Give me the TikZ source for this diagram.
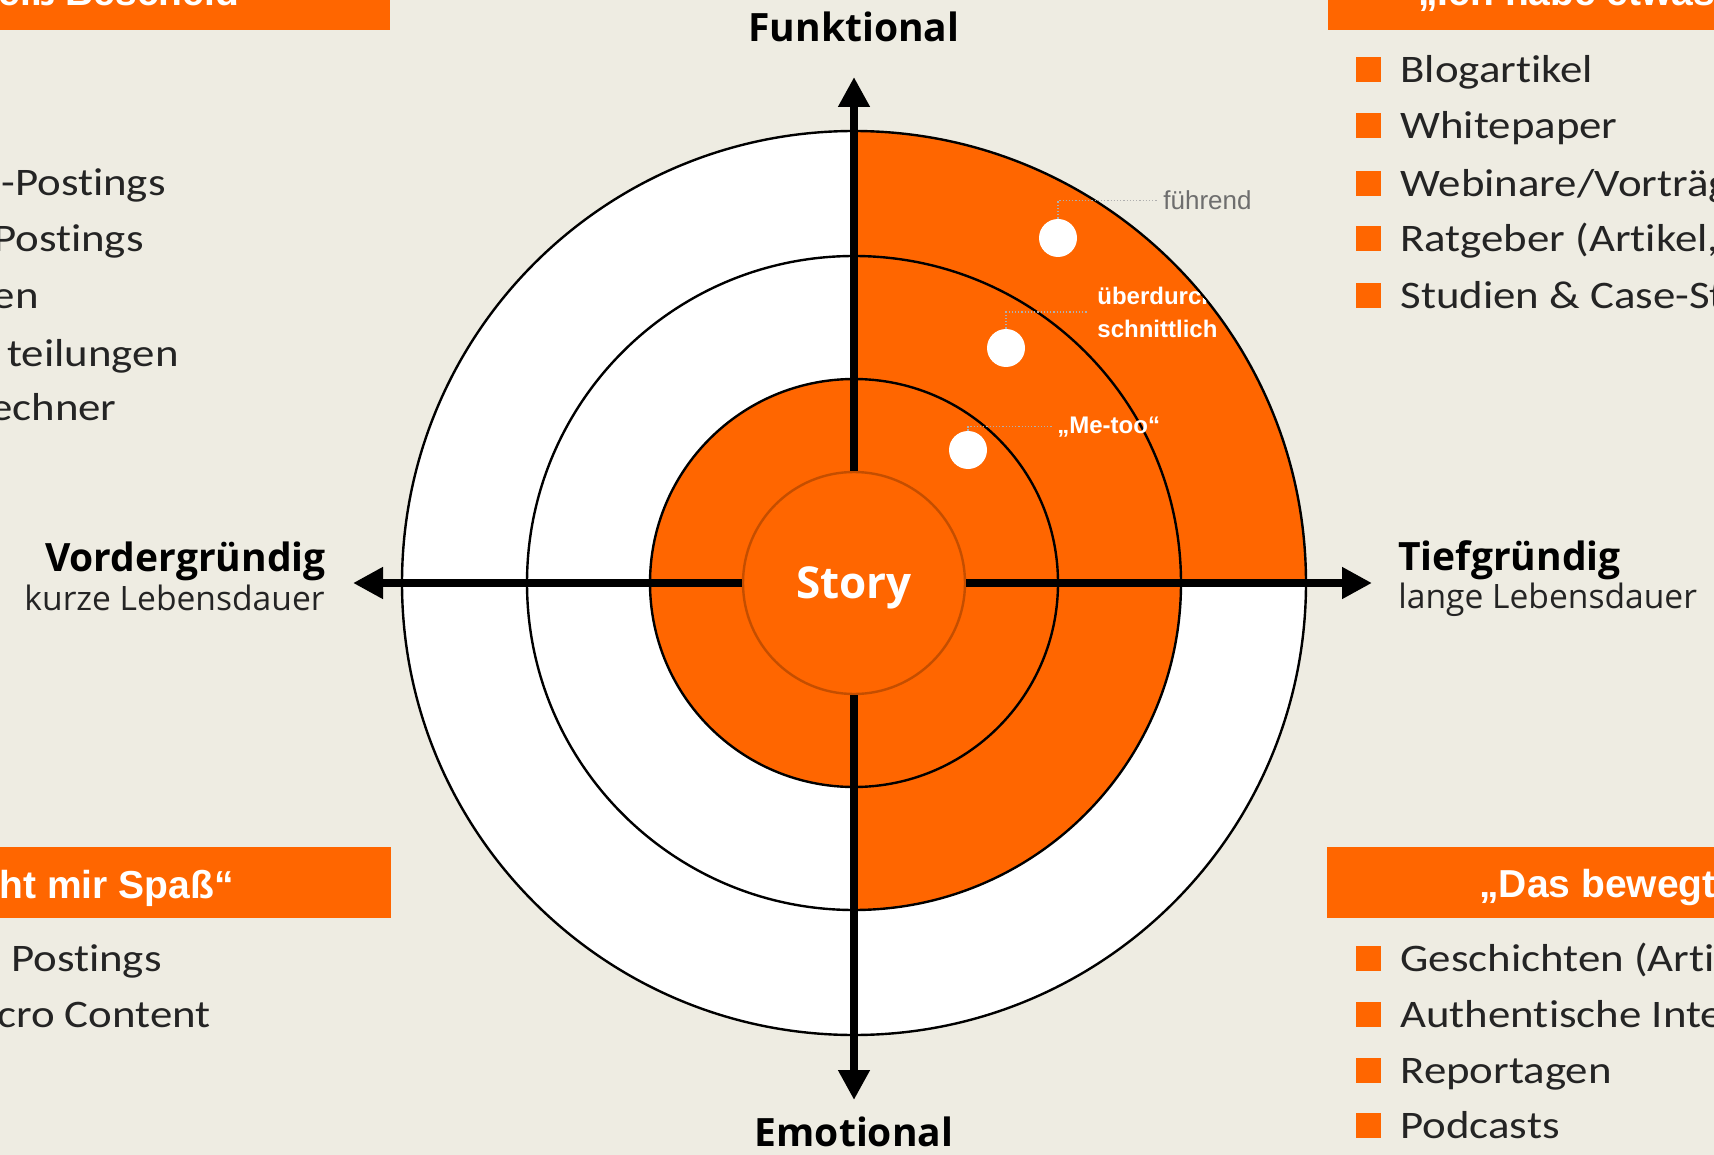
\documentclass[tikz,border=0pt]{standalone}
\usepackage{fontspec}
\usetikzlibrary{arrows.meta}
\setmainfont{Open Sans}
\newfontfamily\osans{Open Sans}
\newfontfamily\listf[FakeStretch=1.15,Ligatures=NoCommon]{Carlito}
\newfontfamily\arialf{Liberation Sans}
\definecolor{bg}{RGB}{238,236,226}
\definecolor{org}{RGB}{255,102,0}
\definecolor{dorg}{RGB}{196,78,0}
\definecolor{txt}{RGB}{36,36,36}
\definecolor{lead}{RGB}{175,175,175}
\definecolor{lblgrey}{RGB}{110,110,110}
\begin{document}
\begin{tikzpicture}[x=0.5pt,y=0.5pt,
  ring/.style={draw=black,line width=1.2pt},
  axis/.style={line width=4.3pt,-{Triangle[length=15pt,width=15pt]}},
  axbold/.style={font=\osans\bfseries\fontsize{19.5}{23}\selectfont,inner sep=0pt,text=black},
  axreg/.style={font=\osans\fontsize{16.8}{20}\selectfont,inner sep=0pt,text=txt},
  listtxt/.style={font=\listf\fontsize{19.5}{23}\selectfont,inner sep=0pt,text=txt,anchor=base west},
  listcut/.style={font=\listf\fontsize{19.5}{23}\selectfont,inner sep=0pt,text=txt,anchor=base east},
  bulletsq/.style={fill=org,minimum size=12.5pt,inner sep=0pt},
  bannertxt/.style={font=\arialf\bfseries\fontsize{19.5}{23}\selectfont,text=white,inner sep=0pt},
  dotw/.style={circle,fill=white,minimum size=19pt,inner sep=0pt},
  leader/.style={draw=lead,line width=0.6pt,densely dotted},
  whitelab/.style={font=\arialf\bfseries\fontsize{12}{15}\selectfont,text=white,inner sep=0pt,anchor=base west},
]
\useasboundingbox (0,0) rectangle (1714,-1155);
\clip (0,0) rectangle (1714,-1155);
\fill[bg] (0,0) rectangle (1714,-1155);

% target
\coordinate (C) at (854,-583);
\fill[white] (C) circle[radius=452];
\fill[org] (C) -- ++(0:452) arc[start angle=0,end angle=90,radius=452] -- cycle;
\fill[org] (C) -- ++(270:327) arc[start angle=270,end angle=360,radius=327] -- cycle;
\fill[org] (C) circle[radius=204];
\draw[ring] (C) circle[radius=452];
\draw[ring] (C) circle[radius=327];
\draw[ring] (C) circle[radius=204];

\node[circle,fill=org,draw=dorg,line width=1.2pt,minimum size=111pt,inner sep=0pt,
      text=white,font=\osans\bfseries\fontsize{22}{26}\selectfont,text depth=0pt] (story) at (C) {Story};

% axes
\coordinate (tipN) at (854,-77);
\coordinate (tipS) at (854,-1100);
\coordinate (tipW) at (353,-583);
\coordinate (tipE) at (1372,-583);
\draw[axis] (story.north) -- (tipN);
\draw[axis] (story.south) -- (tipS);
\draw[axis] (story.west) -- (tipW);
\draw[axis] (story.east) -- (tipE);

% axis labels
\node[axbold,anchor=base] (fkt) at (854,-42) {Funktional};
\node[axbold,anchor=base] (emo) at (854,-1146) {Emotional};
\node[axbold,anchor=base east] (vg) at (326,-571) {Vordergründig};
\node[axreg,anchor=base east] (vgs) at (325,-610) {kurze Lebensdauer};
\node[axbold,anchor=base west] (tg) at (1398,-570) {Tiefgründig};
\node[axreg,anchor=base west] (tgs) at (1398,-608) {lange Lebensdauer};

% dots and labels
\node[dotw] (d1) at (1058,-238) {};
\node[dotw] (d2) at (1006,-348) {};
\node[dotw] (d3) at (968,-450) {};
\node[font=\arialf\fontsize{13}{15}\selectfont,text=lblgrey,inner sep=0pt,anchor=base west] (l1) at (1163,-210) {führend};
\begin{scope}
\clip (C) circle[radius=451];
\node[whitelab] (l2a) at (1097,-305) {überdurch};
\node[whitelab] (l2b) at (1097,-337) {schnittlich};
\end{scope}
\coordinate (l2c) at (1088,-312);
\node[whitelab] (l3) at (1057,-433) {„Me-too“};
\draw[leader] (d1.north) |- ([xshift=-3pt]l1.west);
\draw[leader] (d2.north) |- (l2c);
\draw[leader] (d3.north) |- ([xshift=-2pt]l3.west);

% banners
\fill[org] (0,41) rectangle (390,-30);
\fill[org] (1328,41) rectangle (1714,-30);
\fill[org] (0,-847) rectangle (391,-918);
\fill[org] (1327,-847) rectangle (1714,-918);
\node[bannertxt,anchor=base east] (b1) at (259,-6) {„Ich weiß Bescheid“};
\node[bannertxt,anchor=base west] (b2) at (1418,-6) {„Ich habe etwas zu sagen“};
\node[bannertxt,anchor=base east] (b3) at (234,-898) {„Das macht mir Spaß“};
\node[bannertxt,anchor=base west] (b4) at (1479,-897) {„Das bewegt mich“};

% left top list (cut at the left edge)
\node[listcut] (lt1) at (166,-196) {-Postings};
\node[listcut] (lt2) at (144,-252) {Postings};
\node[listcut] (lt3) at (39,-308) {en};
\node[listcut] (lt4) at (179,-366) {teilungen};
\node[listcut] (lt5) at (117,-421) {echner};

% left bottom list
\node[listcut] (lb1) at (162,-971) {Postings};
\node[listcut] (lb2) at (211,-1027) {cro Content};

% right top list
\foreach \yy/\tt [count=\i] in {83/Blogartikel,138.5/Whitepaper,197/{Webinare/Vorträge},252/{Ratgeber (Artikel, E-Books)},309/{Studien \& Case-Studies}}{
  \node[bulletsq] (rtb\i) at (1368,-\yy+13) {};
  \node[listtxt] (rt\i) at (1400,-\yy) {\tt};
}
% right bottom list
\foreach \yy/\tt [count=\i] in {971/{Geschichten (Artikel, Videos)},1027/Authentische Interviews,1083/Reportagen,1138/Podcasts}{
  \node[bulletsq] (rbb\i) at (1368,-\yy+13) {};
  \node[listtxt] (rb\i) at (1400,-\yy) {\tt};
}
\end{tikzpicture}
\end{document}
